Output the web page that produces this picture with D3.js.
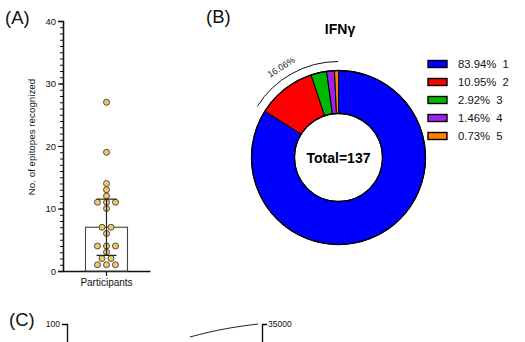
<!DOCTYPE html>
<html>
<head>
<meta charset="utf-8">
<script src="https://cdn.jsdelivr.net/npm/d3@7"></script>
<style>
html,body{margin:0;padding:0;background:#fff;}
svg{display:block;font-family:"Liberation Sans",Arial,Helvetica,sans-serif;}
</style>
</head>
<body>
<svg id="chart" width="525" height="342"></svg>
<script>
// ---------- DATA ----------
// Panel A: number of epitopes recognized per participant
const participantCounts = [27, 19, 14, 13, 12, 11, 11, 11, 10, 7, 7, 6, 4, 4, 4, 3, 2, 2, 1, 1, 1];
const panelACategory = ["Participants"];
const panelAYTicks = [0, 10, 20, 30, 40];

// Panel B: IFNγ donut
const donutLabels = ["1", "2", "3", "4", "5"];
const donutCounts = [115, 15, 4, 2, 1];
const donutPercentLabels = ["83.94%", "10.95%", "2.92%", "1.46%", "0.73%"];
const donutColors = ["#0000ff", "#ff0000", "#00b800", "#a020f0", "#ff8000"];
const donutTitle = "IFNγ";
const donutCenterLabel = "Total=137";
const annotatedShare = "16.06%";

// Panel C (cut off at the bottom of the picture)
const panelCLeftTicks = [100];
const panelCRightTicks = [35000];
const panelCCurveX = [25.2, 29.3, 33.4, 39.2];
const panelCCurveY = [31650, 32940, 33970, 35000];

// ---------- DRAW ----------
const svg = d3.select("#chart");
const font = '"Liberation Sans",Arial,Helvetica,sans-serif';

// ===== Panel A =====
svg.append("text").attr("x", 5).attr("y", 24).attr("font-size", 18.5).attr("fill", "#111").text("(A)");

const yA = d3.scaleLinear().domain([0, 40]).range([271, 21]);
const xA = d3.scaleBand().domain(panelACategory).range([63, 150]).paddingInner(0).paddingOuter(0.25);
const gA = svg.append("g");

// minor ticks
const yAxisMinor = d3.axisLeft(yA).tickValues(d3.range(0, 41, 1)).tickSize(3).tickFormat("");
gA.append("g").attr("transform", "translate(63,0)").call(yAxisMinor)
  .call(g => g.select(".domain").remove())
  .call(g => g.selectAll("line").attr("stroke", "#111").attr("stroke-width", 1));
const yAxisA = d3.axisLeft(yA).tickValues(panelAYTicks).tickSize(5).tickPadding(2);
gA.append("g").attr("transform", "translate(63,0)").call(yAxisA)
  .call(g => g.select(".domain").attr("stroke", "#111").attr("stroke-width", 1.6))
  .call(g => g.selectAll("line").attr("stroke", "#111").attr("stroke-width", 1.2))
  .call(g => g.selectAll("text").attr("font-size", 9.5).attr("font-family", font).attr("fill", "#111"));

const xAxisA = d3.axisBottom(xA).tickSize(5).tickSizeOuter(0).tickPadding(3);
gA.append("g").attr("transform", "translate(0,271)").call(xAxisA)
  .call(g => g.select(".domain").attr("stroke", "#111").attr("stroke-width", 1.6))
  .call(g => g.selectAll("line").attr("stroke", "#111").attr("stroke-width", 1.2))
  .call(g => g.selectAll("text").attr("font-size", 10).attr("font-family", font).attr("fill", "#111"));

svg.append("text")
  .attr("transform", "translate(35,137) rotate(-90)")
  .attr("text-anchor", "middle").attr("font-size", 9.8).attr("fill", "#111")
  .text("No. of epitopes recognized");

const sorted = participantCounts.slice().sort(d3.ascending);
const median = d3.median(sorted);
// GraphPad-style quartiles (n+1 method)
function quantileN1(arr, p) {
  const pos = (arr.length + 1) * p;
  const lo = Math.floor(pos), hi = Math.ceil(pos);
  return arr[lo - 1] + (arr[hi - 1] - arr[lo - 1]) * (pos - lo);
}
const q1 = quantileN1(sorted, 0.25), q3 = quantileN1(sorted, 0.75);
const cx = xA("Participants") + xA.bandwidth() / 2;
const barW = 42;
gA.append("rect")
  .attr("x", cx - barW / 2).attr("y", yA(median))
  .attr("width", barW).attr("height", yA(0) - yA(median))
  .attr("fill", "#fff").attr("stroke", "#444").attr("stroke-width", 1.1);

// beeswarm dots
const groups = d3.groups(participantCounts, d => d);
const dotStep = 9;
groups.forEach(([v, arr]) => {
  arr.forEach((d, i) => {
    gA.append("circle")
      .attr("cx", cx + (i - (arr.length - 1) / 2) * dotStep)
      .attr("cy", yA(v)).attr("r", 3)
      .attr("fill", "#ebc77c").attr("stroke", "#4a3d1c").attr("stroke-width", 0.9);
  });
});
// error bars (IQR)
gA.append("line").attr("x1", cx).attr("x2", cx).attr("y1", yA(q1)).attr("y2", yA(q3))
  .attr("stroke", "#222").attr("stroke-width", 1.2);
[q1, q3].forEach(q => gA.append("line")
  .attr("x1", cx - 10).attr("x2", cx + 10).attr("y1", yA(q)).attr("y2", yA(q))
  .attr("stroke", "#222").attr("stroke-width", 1.2));

// ===== Panel B =====
svg.append("text").attr("x", 206).attr("y", 23).attr("font-size", 18.5).attr("fill", "#111").text("(B)");
svg.append("text").attr("x", 340).attr("y", 34).attr("text-anchor", "middle")
  .attr("font-size", 14).attr("font-weight", "bold").text(donutTitle);

const dcx = 338.5, dcy = 157.5, rOuter = 87, rInner = 44;
const pie = d3.pie().sort(null).value(d => d);
const arcs = pie(donutCounts);
const arcGen = d3.arc().innerRadius(rInner).outerRadius(rOuter);
const gB = svg.append("g").attr("transform", `translate(${dcx},${dcy})`);
gB.selectAll("path.slice").data(arcs).join("path").attr("class", "slice")
  .attr("d", arcGen).attr("fill", (d, i) => donutColors[i])
  .attr("stroke", "#000").attr("stroke-width", 1);
gB.append("circle").attr("r", rOuter).attr("fill", "none").attr("stroke", "#000").attr("stroke-width", 1.3);
gB.append("circle").attr("r", rInner).attr("fill", "none").attr("stroke", "#000").attr("stroke-width", 1.3);

gB.append("text").attr("y", 5).attr("text-anchor", "middle")
  .attr("font-size", 14).attr("font-weight", "bold").text(donutCenterLabel);

// annotation arc for the non-major share
const rest = d3.sum(donutCounts.slice(1)) / d3.sum(donutCounts);
const aStart = -rest * 2 * Math.PI; // from 12 o'clock, counter-clockwise
const rAnn = 96;
const p = d3.path();
p.arc(0, 0, rAnn, -Math.PI / 2 + aStart, -Math.PI / 2 - 0.005);
gB.append("path").attr("d", p.toString()).attr("fill", "none").attr("stroke", "#111").attr("stroke-width", 1);
const aMid = aStart * 0.56;
const rLab = 104;
gB.append("text")
  .attr("transform", `translate(${rLab * Math.sin(aMid)},${-rLab * Math.cos(aMid)}) rotate(${aMid * 180 / Math.PI})`)
  .attr("text-anchor", "middle").attr("font-size", 9).attr("fill", "#222")
  .text(annotatedShare);

// legend
const legY = d3.scalePoint().domain(donutLabels).range([64, 136]);
const gL = svg.append("g");
donutLabels.forEach((lab, i) => {
  const y = legY(lab);
  gL.append("rect").attr("x", 428).attr("y", y - 3.5).attr("width", 19).attr("height", 7)
    .attr("fill", donutColors[i]).attr("stroke", "#000").attr("stroke-width", 1.4);
  gL.append("text").attr("x", 458).attr("y", y + 4).attr("font-size", 11.3)
    .style("white-space", "pre").attr("fill", "#111")
    .text(donutPercentLabels[i] + "  " + lab);
});

// ===== Panel C =====
svg.append("text").attr("x", 9).attr("y", 326).attr("font-size", 18.5).attr("fill", "#111").text("(C)");
const yCl = d3.scaleLinear().domain([0, 100]).range([460, 324]);
const yCr = d3.scaleLinear().domain([0, 35000]).range([460, 324]);
const xC = d3.scaleLinear().domain([0, 40]).range([67, 262]);
svg.append("g").attr("transform", "translate(67,0)")
  .call(d3.axisLeft(yCl).tickValues(panelCLeftTicks).tickSize(5).tickPadding(2))
  .call(g => g.select(".domain").attr("stroke", "#111").attr("stroke-width", 1.4))
  .call(g => g.selectAll("text").attr("font-size", 8.5).attr("font-family", font).attr("fill", "#111"));
svg.append("g").attr("transform", "translate(262,0)")
  .call(d3.axisRight(yCr).tickValues(panelCRightTicks).tickSize(5).tickPadding(1).tickFormat(d3.format("d")))
  .call(g => g.select(".domain").attr("stroke", "#111").attr("stroke-width", 1.4))
  .call(g => g.selectAll("text").attr("font-size", 8.5).attr("font-family", font).attr("fill", "#111"));
const line = d3.line().x((d, i) => xC(panelCCurveX[i])).y(d => yCr(d)).curve(d3.curveMonotoneX);
svg.append("path").datum(panelCCurveY).attr("d", line)
  .attr("fill", "none").attr("stroke", "#222").attr("stroke-width", 1);
</script>
</body>
</html>
